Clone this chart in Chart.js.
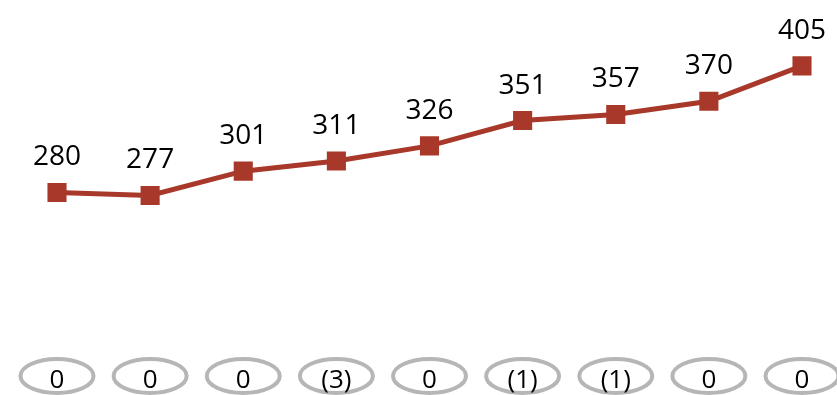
<!DOCTYPE html>
<html><head><meta charset="utf-8">
<script src="https://cdn.jsdelivr.net/npm/chart.js@4/dist/chart.umd.min.js"></script>
<style>html,body{margin:0;padding:0;background:#fff}#wrap{width:837px;height:395px}</style>
</head><body><div id="wrap"><canvas id="c" width="837" height="395"></canvas></div>
<script>
const categories = ['1','2','3','4','5','6','7','8','9'];
const values = [280, 277, 301, 311, 326, 351, 357, 370, 405];
const bottomLabels = ['0','0','0','(3)','0','(1)','(1)','0','0'];

const labelPlugin = {
  id: 'labels',
  afterDatasetsDraw(chart) {
    const ctx = chart.ctx;
    const meta = chart.getDatasetMeta(0);
    const xs = chart.scales.x;
    ctx.save();
    ctx.fillStyle = '#000';
    ctx.textAlign = 'center';
    ctx.textBaseline = 'alphabetic';
    ctx.font = '28px "Open Sans", sans-serif';
    meta.data.forEach((p, i) => {
      ctx.fillText(String(values[i]), p.x, p.y - 27);
    });
    ctx.font = '26px "Open Sans", sans-serif';
    ctx.textBaseline = 'alphabetic';
    bottomLabels.forEach((t, i) => {
      const x = xs.getPixelForValue(i);
      ctx.beginPath();
      ctx.ellipse(x, 376, 36.5, 17, 0, 0, Math.PI * 2);
      ctx.lineWidth = 4;
      ctx.strokeStyle = '#b6b6b6';
      ctx.stroke();
      ctx.fillStyle = '#000';
      ctx.fillText(t, x, 388);
    });
    ctx.restore();
  }
};

new Chart(document.getElementById('c'), {
  type: 'line',
  data: {
    labels: categories,
    datasets: [{
      data: values,
      borderColor: '#a8392a',
      backgroundColor: '#a8392a',
      borderWidth: 5,
      pointStyle: 'rect',
      pointRadius: 13.5,
      pointBorderWidth: 0,
      tension: 0
    }]
  },
  options: {
    responsive: false,
    animation: false,
    layout: { autoPadding: false, padding: { left: 57, right: 35, top: 0, bottom: 0 } },
    plugins: { legend: { display: false }, tooltip: { enabled: false } },
    scales: {
      x: { display: false, offset: false },
      y: { display: false, min: 80, max: 470 }
    }
  },
  plugins: [labelPlugin]
});
</script></body></html>
